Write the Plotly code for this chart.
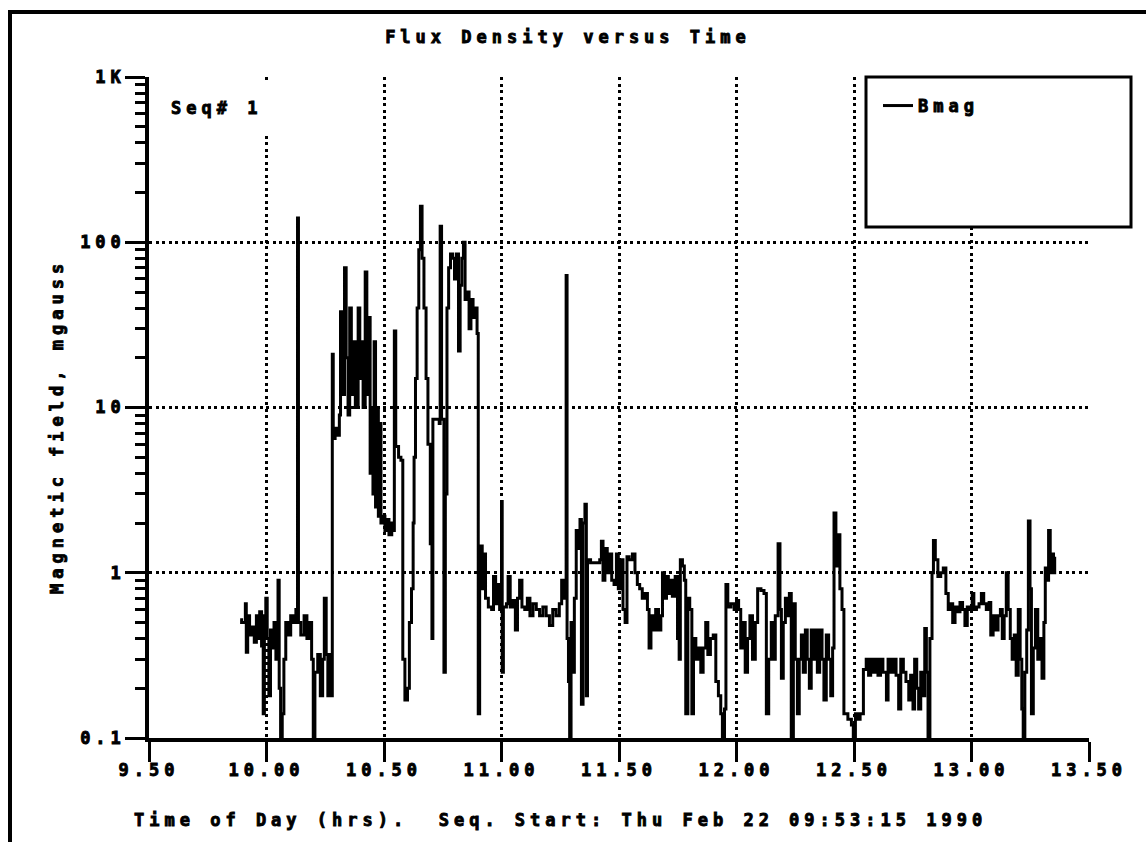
import plotly.graph_objects as go

# Bmag time series: time of day (hours) and flux density (mgauss)
time_hrs = [
    9.888, 9.894, 9.910, 9.914, 9.920, 9.928, 9.938, 9.948, 9.957, 9.963,
    9.971, 9.979, 9.986, 9.991, 9.997, 10.003, 10.010, 10.017, 10.024, 10.032,
    10.040, 10.049, 10.054, 10.060, 10.067, 10.074, 10.082, 10.092, 10.103, 10.115,
    10.125, 10.132, 10.136, 10.146, 10.160, 10.172, 10.182, 10.192, 10.199, 10.206,
    10.218, 10.229, 10.239, 10.246, 10.254, 10.261, 10.270, 10.277, 10.280, 10.284,
    10.292, 10.301, 10.310, 10.315, 10.322, 10.332, 10.339, 10.347, 10.354, 10.361,
    10.370, 10.378, 10.390, 10.397, 10.404, 10.411, 10.420, 10.427, 10.436, 10.441,
    10.447, 10.453, 10.458, 10.464, 10.470, 10.476, 10.481, 10.487, 10.496, 10.504,
    10.513, 10.521, 10.533, 10.540, 10.544, 10.550, 10.562, 10.572, 10.580, 10.589,
    10.600, 10.608, 10.617, 10.624, 10.628, 10.634, 10.641, 10.648, 10.655, 10.662,
    10.670, 10.679, 10.687, 10.697, 10.704, 10.708, 10.725, 10.735, 10.739, 10.745,
    10.755, 10.761, 10.768, 10.775, 10.783, 10.792, 10.800, 10.808, 10.817, 10.824,
    10.831, 10.838, 10.845, 10.854, 10.862, 10.870, 10.879, 10.887, 10.896, 10.901,
    10.907, 10.913, 10.918, 10.924, 10.932, 10.944, 10.958, 10.966, 10.975, 10.983,
    10.992, 11.000, 11.003, 11.008, 11.021, 11.028, 11.037, 11.049, 11.059, 11.068,
    11.077, 11.087, 11.099, 11.110, 11.121, 11.134, 11.148, 11.162, 11.176, 11.190,
    11.204, 11.218, 11.232, 11.246, 11.256, 11.265, 11.275, 11.279, 11.285, 11.290,
    11.296, 11.304, 11.310, 11.318, 11.327, 11.334, 11.340, 11.347, 11.355, 11.361,
    11.366, 11.379, 11.400, 11.418, 11.425, 11.432, 11.440, 11.450, 11.460, 11.469,
    11.479, 11.489, 11.497, 11.507, 11.517, 11.526, 11.534, 11.543, 11.557, 11.568,
    11.578, 11.588, 11.599, 11.611, 11.621, 11.628, 11.636, 11.645, 11.656, 11.668,
    11.678, 11.685, 11.693, 11.702, 11.710, 11.719, 11.727, 11.739, 11.749, 11.756,
    11.761, 11.770, 11.778, 11.784, 11.793, 11.801, 11.810, 11.817, 11.827, 11.838,
    11.848, 11.858, 11.869, 11.878, 11.889, 11.901, 11.912, 11.923, 11.933, 11.940,
    11.949, 11.955, 11.963, 11.976, 11.990, 12.000, 12.009, 12.018, 12.028, 12.037,
    12.047, 12.057, 12.068, 12.080, 12.090, 12.104, 12.117, 12.127, 12.137, 12.148,
    12.157, 12.165, 12.177, 12.185, 12.191, 12.199, 12.208, 12.216, 12.225, 12.233,
    12.242, 12.250, 12.259, 12.267, 12.276, 12.284, 12.293, 12.301, 12.310, 12.318,
    12.327, 12.335, 12.344, 12.354, 12.364, 12.372, 12.382, 12.392, 12.401, 12.409,
    12.415, 12.423, 12.432, 12.440, 12.449, 12.457, 12.474, 12.489, 12.497, 12.506,
    12.517, 12.526, 12.534, 12.540, 12.552, 12.562, 12.571, 12.581, 12.591, 12.602,
    12.613, 12.623, 12.638, 12.645, 12.656, 12.667, 12.679, 12.690, 12.699, 12.710,
    12.721, 12.733, 12.741, 12.751, 12.758, 12.767, 12.775, 12.784, 12.792, 12.801,
    12.808, 12.815, 12.823, 12.832, 12.838, 12.846, 12.857, 12.869, 12.880, 12.891,
    12.901, 12.911, 12.920, 12.930, 12.939, 12.951, 12.962, 12.972, 12.982, 12.993,
    13.003, 13.010, 13.021, 13.032, 13.042, 13.052, 13.063, 13.075, 13.082, 13.092,
    13.103, 13.113, 13.123, 13.131, 13.139, 13.148, 13.156, 13.165, 13.173, 13.182,
    13.190, 13.199, 13.207, 13.214, 13.220, 13.227, 13.235, 13.242, 13.249, 13.255,
    13.263, 13.272, 13.282, 13.292, 13.300, 13.308, 13.314, 13.323, 13.328, 13.335,
    13.342, 13.349, 13.354,
]

bmag_mgauss = [
    0.52, 0.50, 0.65, 0.33, 0.55, 0.42, 0.47, 0.38, 0.55, 0.40,
    0.58, 0.36, 0.14, 0.55, 0.70, 0.40, 0.18, 0.45, 0.35, 0.50,
    0.30, 0.90, 0.20, 0.10, 0.14, 0.30, 0.50, 0.42, 0.55, 0.50,
    0.60, 140, 0.50, 0.42, 0.55, 0.40, 0.50, 0.30, 0.10, 0.25,
    0.32, 0.18, 0.30, 0.70, 0.32, 0.18, 0.32, 0.18, 21, 6.5,
    7.5, 6.8, 9, 38, 12, 70, 20, 9, 40, 12,
    25, 10, 40, 15, 25, 10, 66, 12, 35, 4,
    10, 3, 25, 2.5, 10, 2.2, 8, 2.0, 2.2, 1.8,
    2.1, 1.7, 2.0, 1.8, 29, 5.8, 5.0, 4.8, 0.30, 0.17,
    0.20, 0.50, 0.80, 2.0, 5, 15, 40, 90, 165, 80,
    40, 15, 6, 1.5, 0.40, 8.5, 8.5, 8.0, 125, 8.5,
    0.25, 3, 40, 70, 85, 80, 60, 85, 22, 55,
    80, 100, 45, 50, 30, 45, 35, 40, 28, 0.14,
    1.2, 1.45, 0.80, 1.3, 0.70, 0.62, 0.60, 0.95, 0.65, 0.85,
    0.60, 2.7, 0.25, 0.62, 0.65, 0.95, 0.62, 0.68, 0.45, 0.70,
    0.90, 0.62, 0.60, 0.70, 0.55, 0.65, 0.60, 0.55, 0.62, 0.55,
    0.48, 0.60, 0.55, 0.65, 0.90, 0.70, 63, 0.40, 0.22, 0.10,
    0.50, 0.25, 0.70, 1.8, 1.4, 2.1, 0.16, 2.0, 2.6, 0.18,
    1.2, 1.15, 1.15, 1.2, 1.55, 0.90, 1.4, 1.0, 1.3, 0.90,
    0.85, 1.3, 0.80, 1.2, 0.60, 0.50, 1.25, 1.2, 1.3, 1.0,
    0.85, 0.80, 0.70, 0.75, 0.60, 0.35, 0.55, 0.45, 0.60, 0.45,
    0.55, 1.0, 0.70, 0.95, 0.75, 0.90, 0.72, 0.95, 0.40, 0.30,
    1.2, 1.1, 0.90, 0.14, 0.70, 0.60, 0.14, 0.40, 0.30, 0.35,
    0.25, 0.35, 0.50, 0.32, 0.40, 0.42, 0.22, 0.18, 0.14, 0.10,
    0.15, 0.85, 0.62, 0.65, 0.60, 0.68, 0.60, 0.35, 0.50, 0.25,
    0.40, 0.55, 0.30, 0.50, 0.80, 0.78, 0.75, 0.14, 0.30, 0.50,
    0.30, 0.55, 1.5, 0.60, 0.23, 0.50, 0.70, 0.55, 0.75, 0.10,
    0.65, 0.30, 0.14, 0.30, 0.42, 0.25, 0.45, 0.30, 0.20, 0.45,
    0.30, 0.45, 0.25, 0.45, 0.30, 0.17, 0.42, 0.30, 0.18, 0.35,
    2.3, 1.1, 1.7, 0.80, 0.60, 0.14, 0.13, 0.12, 0.10, 0.14,
    0.13, 0.14, 0.14, 0.26, 0.30, 0.24, 0.30, 0.25, 0.30, 0.24,
    0.30, 0.25, 0.17, 0.30, 0.25, 0.30, 0.24, 0.15, 0.30, 0.25,
    0.22, 0.17, 0.24, 0.15, 0.30, 0.20, 0.15, 0.25, 0.18, 0.46,
    0.25, 0.10, 0.40, 1.0, 1.57, 1.2, 0.95, 1.0, 1.07, 0.75,
    0.60, 0.65, 0.50, 0.62, 0.58, 0.66, 0.60, 0.48, 0.62, 0.60,
    0.75, 0.60, 0.62, 0.65, 0.75, 0.65, 0.60, 0.66, 0.42, 0.55,
    0.45, 0.55, 0.60, 0.40, 0.55, 1.0, 0.60, 0.40, 0.30, 0.42,
    0.24, 0.60, 0.30, 0.15, 0.10, 0.25, 0.45, 2.06, 0.80, 0.14,
    0.35, 0.60, 0.30, 0.40, 0.23, 0.50, 1.07, 0.90, 1.8, 1.0,
    1.3, 1.0, 1.25,
]

# Axis ticks
x_tickvals = [9.5, 10.0, 10.5, 11.0, 11.5, 12.0, 12.5, 13.0, 13.5]
x_ticktext = ["9.50", "10.00", "10.50", "11.00", "11.50", "12.00", "12.50", "13.00", "13.50"]
y_tickvals = [0.1, 1, 10, 100, 1000]
y_ticktext = ["0.1", "1", "10", "100", "1K"]

FONT = "DejaVu Sans Mono"
FS = 17
INK = "black"

# plot area in pixels (page is 1146 x 842)
L, R, T, B = 149, 1089, 77, 738
W, H = R - L, B - T


def px(x):
    return (x - L) / W


def py(y):
    return (B - y) / H


def tfont():
    return dict(family=FONT, size=FS, color=INK, weight="bold")


fig = go.Figure()
fig.add_trace(go.Scatter(
    x=time_hrs, y=bmag_mgauss, mode="lines", name="Bmag",
    line=dict(color=INK, width=3, shape="hv"),
))

grid = dict(showgrid=True, gridcolor=INK, gridwidth=2.5, griddash="3px,3.5px")

fig.update_layout(
    width=1146, height=842,
    margin=dict(l=L, r=1146 - R, t=T, b=842 - B),
    paper_bgcolor="white", plot_bgcolor="white",
    font=tfont(),
    showlegend=True,
    title=dict(
        text="Flux Density versus Time",
        xref="container", yref="container", x=0.4956, y=1 - 37 / 842,
        xanchor="center", yanchor="middle", font=tfont(),
    ),
    xaxis=dict(
        range=[9.5, 13.5], tickmode="array", tickvals=x_tickvals, ticktext=x_ticktext,
        showline=True, linecolor=INK, linewidth=3.5, mirror=False,
        ticks="outside", ticklen=20, tickwidth=2.5, tickcolor=INK,
        ticklabelstandoff=-6, tickfont=tfont(),
        zeroline=False, **grid,
    ),
    yaxis=dict(
        type="log", range=[-1, 3], tickmode="array", tickvals=y_tickvals, ticktext=y_ticktext,
        showline=True, linecolor=INK, linewidth=3.5, mirror=False,
        ticks="outside", ticklen=20, tickwidth=2.5, tickcolor=INK,
        ticklabelstandoff=-4, tickfont=tfont(),
        minor=dict(ticks="outside", ticklen=10, tickwidth=2.5, tickcolor=INK,
                   dtick="D1", showgrid=False),
        zeroline=False, **grid,
    ),
    legend=dict(
        x=px(878), y=py(88), xanchor="left", yanchor="top",
        bgcolor="rgba(0,0,0,0)", borderwidth=0, font=tfont(),
    ),
)

# page frame and legend box
fig.add_shape(type="rect", xref="paper", yref="paper",
              x0=px(10), x1=px(1175), y0=py(875), y1=py(12),
              line=dict(color=INK, width=4), fillcolor="rgba(0,0,0,0)", layer="above")
fig.add_shape(type="rect", xref="paper", yref="paper",
              x0=px(866), x1=px(1131), y0=py(227), y1=py(77),
              line=dict(color=INK, width=3), fillcolor="white", layer="above")

# sequence label
fig.add_annotation(
    text="Seq# 1", xref="paper", yref="paper", x=px(170), y=py(80),
    xanchor="left", yanchor="top", width=110, height=54,
    align="left", valign="middle", bgcolor="white", borderpad=0, showarrow=False,
    font=tfont(),
)

# axis titles
fig.add_annotation(
    text="Time of Day (hrs).\u00a0 Seq. Start: Thu Feb 22 09:53:15 1990",
    xref="paper", yref="paper", x=px(560), y=py(820),
    xanchor="center", yanchor="middle", showarrow=False, font=tfont(),
)
fig.add_annotation(
    text="Magnetic field, mgauss", textangle=-90,
    xref="paper", yref="paper", x=px(57), y=py(427),
    xanchor="center", yanchor="middle", showarrow=False, font=tfont(),
)

# wide, heavy character style of the monospaced labels; the legend box is
# not clipped so the wider entry text stays whole
label_css = (
    "var s=document.createElement('style');"
    "s.textContent='.main-svg text{letter-spacing:5px;stroke:#000;stroke-width:0.9px;}"
    ".main-svg .legend .scrollbox{clip-path:none !important;}';"
    "document.head.appendChild(s);"
)

fig.write_html("out.html", post_script=label_css)
